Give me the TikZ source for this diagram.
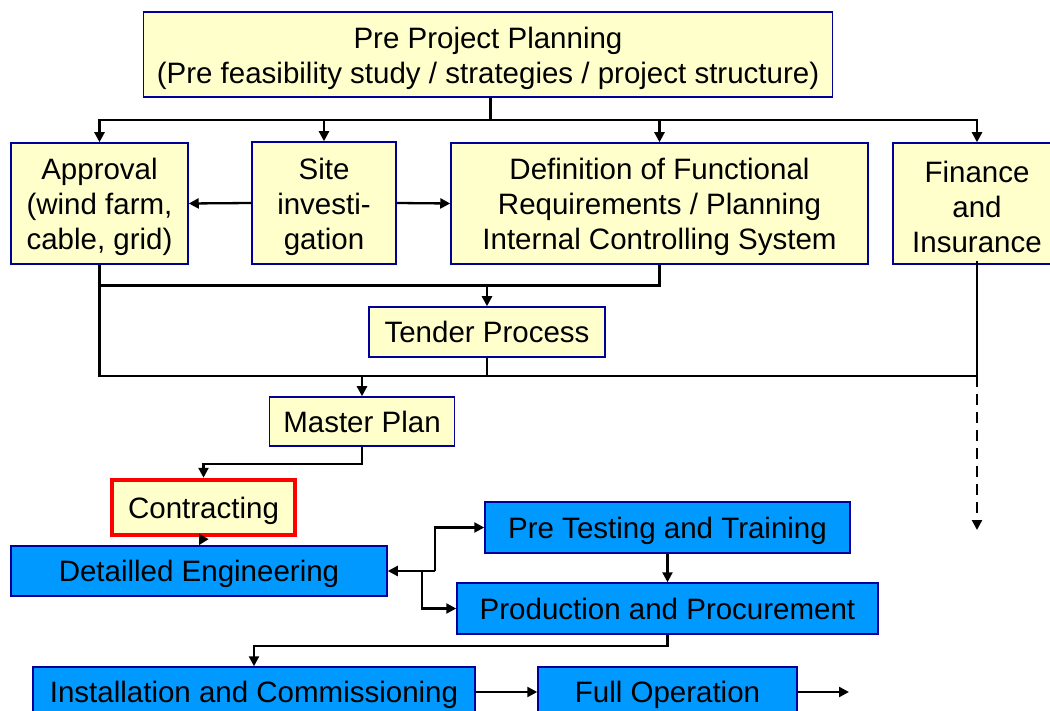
\documentclass[tikz,border=0pt]{standalone}
\usepackage{fontspec}
\setmainfont{Liberation Sans}
\usetikzlibrary{arrows.meta}
\definecolor{boxyellow}{RGB}{255,255,204}
\definecolor{boxblue}{RGB}{0,153,255}
\definecolor{edgeblue}{RGB}{0,0,153}
\newcommand{\tstrut}{\rule{0pt}{29pt}}
\begin{document}
\begin{tikzpicture}[x=1pt,y=-1pt,
  base/.style={rectangle, draw=edgeblue, line width=1.5pt, inner sep=0pt, align=center,
    font=\fontsize{29.5}{35}\selectfont},
  ybox/.style={base, fill=boxyellow},
  oneline/.style={text height=24pt, text depth=3pt},
  bbox/.style={base, fill=boxblue, oneline},
  redbox/.style={rectangle, draw=red, line width=4.5pt, fill=boxyellow, inner sep=0pt, align=center,
    font=\fontsize{29.5}{35}\selectfont, oneline},
  wire/.style={line width=2.3pt, line join=miter},
  conn/.style={wire, -{Triangle[length=10pt,width=10pt]}},
  dconn/.style={conn, dash pattern=on 11pt off 7pt}
]
\useasboundingbox (0,0) rectangle (1050,711);
\clip (0,0) rectangle (1050,711);

% nodes
\node[ybox, minimum width=689pt, minimum height=85pt] (top) at (488,54.5)
  {\tstrut Pre Project Planning\\(Pre feasibility study / strategies / project structure)};
\node[ybox, minimum width=177pt, minimum height=121pt] (appr) at (99.5,203.5)
  {\tstrut Approval\\(wind farm,\\cable, grid)};
\node[ybox, minimum width=144pt, minimum height=122pt] (site) at (324,203)
  {\tstrut Site\\investi-\\gation};
\node[ybox, minimum width=417pt, minimum height=121pt] (def) at (659.5,203.5)
  {\tstrut Definition of Functional\\Requirements / Planning\\Internal Controlling System};
\node[ybox, minimum width=168pt, minimum height=121pt] (fin) at (977,203.5)
  {\tstrut Finance\\and\\Insurance};
\node[ybox, oneline, minimum width=236pt, minimum height=50pt] (tender) at (487,332)
  {Tender Process};
\node[ybox, oneline, minimum width=185pt, minimum height=49pt] (master) at (362,421.5)
  {Master Plan};
\node[redbox, minimum width=183pt, minimum height=55pt] (contr) at (203.5,507.5)
  {Contracting};
\node[bbox, minimum width=376pt, minimum height=50pt] (det) at (199,571)
  {Detailled Engineering};
\node[bbox, minimum width=365pt, minimum height=51pt] (pre) at (667.5,527.5)
  {Pre Testing and Training};
\node[bbox, minimum width=421pt, minimum height=51pt] (prod) at (667.5,608.5)
  {Production and Procurement};
\node[bbox, minimum width=442pt, minimum height=50pt] (inst) at (254,692)
  {Installation and Commissioning};
\node[bbox, minimum width=259pt, minimum height=50pt] (full) at (667.5,692)
  {Full Operation};

% helper coordinates
\coordinate (j1) at (490,120);
\coordinate (c1) at (487,285.5);
\coordinate (c2) at (362,376);
\coordinate (d1) at (435,571);
\coordinate (d2) at (422,571);
\coordinate (dend) at (977,530);
\coordinate (fend) at (849,692);

% top distribution
\draw[wire, line width=3pt] (top.south -| j1) -- (j1);
\draw[conn] (j1) -| (appr.north);
\draw[conn] (j1) -| (site.north);
\draw[conn] (j1) -| (def.north);
\draw[conn] (j1) -| (fin.north);

% site investigation
\draw[conn] (site.west) -- (appr.east);
\draw[conn] (site.east) -- (def.west);

% to tender
\draw[wire] (appr.south) -- (appr.south |- c1) -- (def.south |- c1) -- (def.south);
\draw[conn] (tender.north |- c1) -- (tender.north);

% to master plan
\draw[wire] (appr.south |- c1) -- (appr.south |- c2) -- (fin.south |- c2) -- ([yshift=4pt]fin.south);
\draw[wire] (tender.south) -- (tender.south |- c2);
\draw[conn] (master.north |- c2) -- (master.north);
\draw[dconn] (fin.south |- c2) -- (dend);

% master -> contracting -> detailled
\draw[conn] (master.south) -- ++(0,17) -| (contr.north);
\draw[conn] (contr.south) -- (det.north);

% detailled engineering branch
\draw[conn] (d1) -- (det.east);
\draw[conn] (d1) |- (pre.west);
\draw[conn] (d2) |- (prod.west);
\draw[conn] (pre.south) -- (prod.north);

% production -> installation -> full operation
\draw[conn] (prod.south) -- ++(0,11) -| (inst.north);
\draw[conn] (inst.east) -- (full.west);
\draw[conn] (full.east) -- (fend);
\end{tikzpicture}
\end{document}
